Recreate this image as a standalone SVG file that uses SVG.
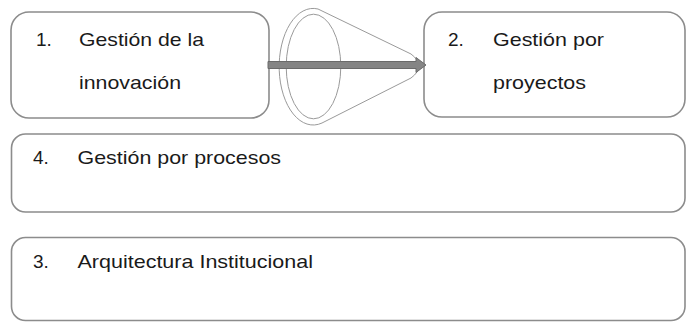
<svg xmlns="http://www.w3.org/2000/svg" width="686" height="322" viewBox="0 0 686 322">
<style>
.box{fill:#fff;stroke:#8c8c8c;stroke-width:1.6}
.t{font-family:"Liberation Sans",Arial,sans-serif;font-size:19px;fill:#1a1a1a}
.cone{fill:none;stroke:#9a9a9a;stroke-width:1}
.arrow{fill:#858585;stroke:#6a6a6a;stroke-width:1}
</style>
<rect width="686" height="322" fill="#fff"/>
<g id="node1">
<rect class="box" x="11" y="12" width="258" height="106" rx="18"/>
<text class="t" x="36" y="45.5">1.</text>
<text class="t" x="79" y="45.5" textLength="125" lengthAdjust="spacingAndGlyphs">Gestión de la</text>
<text class="t" x="79" y="88.5" textLength="102" lengthAdjust="spacingAndGlyphs">innovación</text>
</g>
<g id="node2">
<rect class="box" x="424" y="12" width="261" height="105" rx="18"/>
<text class="t" x="448" y="45.5">2.</text>
<text class="t" x="493" y="45.5" textLength="111" lengthAdjust="spacingAndGlyphs">Gestión por</text>
<text class="t" x="493" y="88.5" textLength="93" lengthAdjust="spacingAndGlyphs">proyectos</text>
</g>
<g id="node4">
<rect class="box" x="11.5" y="134" width="673.5" height="78" rx="14"/>
<text class="t" x="33" y="164">4.</text>
<text class="t" x="77.5" y="164" textLength="203.5" lengthAdjust="spacingAndGlyphs">Gestión por procesos</text>
</g>
<g id="node3">
<rect class="box" x="11.5" y="237.5" width="673.5" height="83" rx="14"/>
<text class="t" x="33" y="267.5">3.</text>
<text class="t" x="77.5" y="267.5" textLength="235.5" lengthAdjust="spacingAndGlyphs">Arquitectura Institucional</text>
</g>
<g id="cone">
<path class="cone" d="M318,9 A34,58.3 0 1 0 322,123 L411,78 Q419,72 419,66 Q419,60 411,54 Z"/>
<ellipse class="cone" cx="313.5" cy="66.5" rx="27.3" ry="52.3"/>
</g>
<g id="connectors">
<path class="arrow" d="M268,61.5 H416 V57.5 L426,65 L416,72.5 V68.5 H268 Z"/>
</g>
</svg>
